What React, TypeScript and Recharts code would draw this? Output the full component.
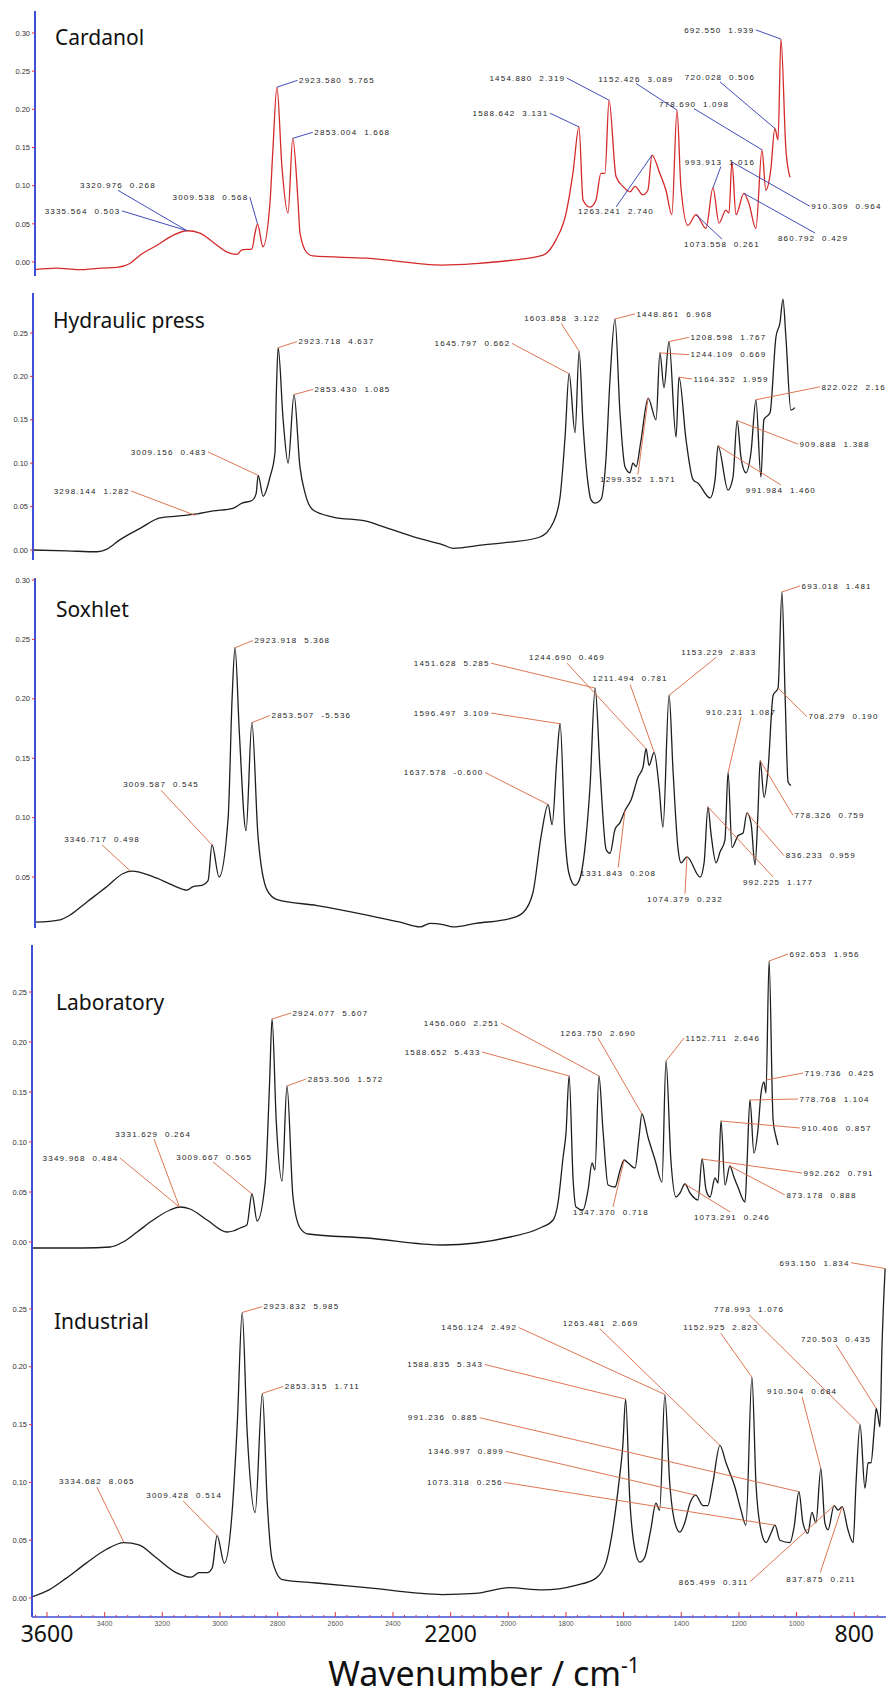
import React from 'react';
import { LineChart, Line, XAxis, YAxis, ReferenceLine, ReferenceDot } from 'recharts';

type Pt = [number, number];
type Peak = [string, 'start' | 'end' | 'middle', number, number, number, number, number, number];

// spectra: [wavenumber, absorbance]
const cardanol: Pt[] = [
  [3994, -0.010], [3900, -0.008], [3800, -0.010], [3700, -0.008], [3631, -0.007], [3574, -0.002], [3529, 0.009],
  [3454, 0.022], [3383, 0.035], [3321, 0.041], [3264, 0.038], [3206, 0.026], [3144, 0.013], [3100, 0.010],
  [3078, 0.016], [3034, 0.017], [3020, 0.038], [3009, 0.050], [2985, 0.020], [2954, 0.077], [2941, 0.147],
  [2923, 0.229], [2901, 0.125], [2874, 0.064], [2853, 0.162], [2830, 0.081], [2821, 0.038], [2790, 0.012],
  [2764, 0.008], [2525, 0.005], [2188, -0.004], [2042, -0.002], [1892, 0.002], [1745, 0.009], [1688, 0.029],
  [1643, 0.064], [1613, 0.116], [1586, 0.177], [1568, 0.081], [1537, 0.072], [1511, 0.081], [1489, 0.116],
  [1471, 0.116], [1453, 0.212], [1422, 0.112], [1391, 0.099], [1360, 0.092], [1338, 0.099], [1303, 0.088],
  [1281, 0.094], [1263, 0.140], [1228, 0.116], [1201, 0.094], [1175, 0.062], [1152, 0.199], [1135, 0.099],
  [1104, 0.048], [1068, 0.062], [1024, 0.044], [993, 0.097], [966, 0.051], [936, 0.068], [922, 0.064],
  [909, 0.131], [891, 0.062], [856, 0.090], [834, 0.077], [803, 0.044], [776, 0.147], [759, 0.094],
  [737, 0.121], [719, 0.175], [705, 0.160], [692, 0.292], [670, 0.147], [652, 0.111],
];

const hydraulic: Pt[] = [
  [4007, 0.000], [3857, -0.001], [3725, -0.002], [3681, 0.001], [3623, 0.012], [3535, 0.025], [3447, 0.037],
  [3372, 0.039], [3302, 0.041], [3214, 0.045], [3126, 0.048], [3086, 0.054], [3042, 0.057], [3024, 0.065],
  [3015, 0.086], [2993, 0.062], [2963, 0.084], [2941, 0.112], [2935, 0.180], [2927, 0.233], [2905, 0.150],
  [2883, 0.100], [2857, 0.179], [2831, 0.096], [2809, 0.066], [2773, 0.046], [2685, 0.038], [2535, 0.033],
  [2465, 0.027], [2315, 0.014], [2201, 0.006], [2157, 0.002], [2024, 0.006], [1905, 0.009], [1773, 0.015],
  [1716, 0.031], [1685, 0.061], [1663, 0.130], [1645, 0.203], [1619, 0.135], [1601, 0.229], [1584, 0.146],
  [1562, 0.077], [1549, 0.058], [1531, 0.054], [1505, 0.058], [1483, 0.104], [1465, 0.196], [1443, 0.266],
  [1421, 0.158], [1399, 0.096], [1377, 0.089], [1364, 0.100], [1350, 0.096], [1328, 0.127], [1297, 0.175],
  [1262, 0.150], [1245, 0.227], [1227, 0.187], [1205, 0.240], [1174, 0.130], [1161, 0.199], [1130, 0.127],
  [1099, 0.081], [1077, 0.077], [1024, 0.060], [1002, 0.081], [989, 0.120], [945, 0.069], [923, 0.084],
  [905, 0.149], [888, 0.107], [866, 0.089], [844, 0.112], [822, 0.173], [800, 0.084], [787, 0.150],
  [760, 0.158], [734, 0.245], [716, 0.262], [703, 0.289], [690, 0.245], [668, 0.161], [650, 0.164],
];

const soxhlet: Pt[] = [
  [3740, 0.012], [3638, 0.014], [3597, 0.018], [3528, 0.029], [3446, 0.042], [3380, 0.053], [3344, 0.055],
  [3311, 0.054], [3242, 0.049], [3176, 0.043], [3119, 0.039], [3094, 0.042], [3058, 0.043], [3033, 0.047],
  [3017, 0.077], [2988, 0.050], [2951, 0.100], [2935, 0.200], [2923, 0.243], [2905, 0.170], [2878, 0.089],
  [2854, 0.180], [2829, 0.084], [2792, 0.039], [2751, 0.031], [2588, 0.026], [2384, 0.018], [2249, 0.012],
  [2167, 0.008], [2126, 0.011], [2073, 0.010], [2032, 0.008], [1939, 0.011], [1800, 0.015], [1747, 0.020],
  [1706, 0.037], [1673, 0.084], [1644, 0.111], [1628, 0.094], [1608, 0.151], [1595, 0.179], [1575, 0.084],
  [1559, 0.053], [1534, 0.043], [1514, 0.049], [1489, 0.084], [1473, 0.126], [1452, 0.209], [1432, 0.140],
  [1407, 0.073], [1391, 0.070], [1371, 0.090], [1350, 0.096], [1330, 0.106], [1305, 0.115], [1277, 0.134],
  [1256, 0.143], [1244, 0.158], [1232, 0.144], [1211, 0.155], [1191, 0.126], [1175, 0.092], [1150, 0.203],
  [1134, 0.140], [1114, 0.075], [1101, 0.062], [1077, 0.067], [1023, 0.050], [1007, 0.062], [991, 0.109],
  [979, 0.087], [958, 0.062], [942, 0.071], [922, 0.081], [909, 0.138], [893, 0.075], [868, 0.085],
  [848, 0.087], [832, 0.104], [815, 0.095], [799, 0.060], [787, 0.104], [778, 0.148], [762, 0.117],
  [746, 0.140], [725, 0.203], [705, 0.209], [689, 0.290], [676, 0.202], [664, 0.130], [652, 0.127],
];

const laboratory: Pt[] = [
  [4002, -0.006], [3773, -0.006], [3651, -0.005], [3593, 0.000], [3530, 0.010], [3458, 0.022], [3382, 0.032],
  [3337, 0.035], [3292, 0.033], [3216, 0.022], [3126, 0.010], [3099, 0.011], [3068, 0.014], [3037, 0.017],
  [3014, 0.048], [2991, 0.021], [2955, 0.059], [2935, 0.160], [2924, 0.223], [2905, 0.120], [2879, 0.061],
  [2857, 0.156], [2830, 0.045], [2798, 0.014], [2762, 0.008], [2497, 0.004], [2156, -0.003], [2008, -0.001],
  [1855, 0.005], [1721, 0.014], [1662, 0.022], [1640, 0.039], [1617, 0.085], [1604, 0.109], [1590, 0.166],
  [1572, 0.062], [1559, 0.035], [1528, 0.032], [1505, 0.052], [1487, 0.079], [1474, 0.072], [1456, 0.166],
  [1438, 0.112], [1415, 0.057], [1384, 0.055], [1361, 0.072], [1343, 0.082], [1325, 0.079], [1294, 0.074],
  [1276, 0.105], [1263, 0.128], [1236, 0.105], [1204, 0.082], [1173, 0.060], [1155, 0.181], [1133, 0.082],
  [1110, 0.045], [1092, 0.049], [1070, 0.058], [1047, 0.049], [1011, 0.042], [993, 0.083], [975, 0.052],
  [957, 0.045], [935, 0.064], [921, 0.059], [908, 0.121], [890, 0.057], [868, 0.076], [850, 0.065],
  [832, 0.055], [800, 0.040], [791, 0.079], [778, 0.142], [760, 0.089], [742, 0.112], [728, 0.149],
  [715, 0.160], [706, 0.149], [692, 0.281], [674, 0.122], [661, 0.105], [652, 0.097],
];

const industrial: Pt[] = [
  [3652, 0.001], [3593, 0.007], [3534, 0.017], [3465, 0.030], [3395, 0.042], [3333, 0.048], [3281, 0.046],
  [3222, 0.035], [3152, 0.022], [3100, 0.018], [3072, 0.022], [3044, 0.022], [3027, 0.026], [3010, 0.054],
  [2985, 0.030], [2958, 0.074], [2940, 0.151], [2923, 0.247], [2906, 0.145], [2878, 0.074], [2853, 0.177],
  [2836, 0.082], [2819, 0.033], [2784, 0.016], [2666, 0.013], [2492, 0.009], [2228, 0.003], [2114, 0.004],
  [1996, 0.009], [1881, 0.007], [1766, 0.011], [1697, 0.017], [1662, 0.030], [1638, 0.059], [1614, 0.105],
  [1603, 0.131], [1593, 0.172], [1579, 0.087], [1561, 0.042], [1544, 0.031], [1527, 0.035], [1506, 0.059],
  [1488, 0.082], [1475, 0.076], [1457, 0.176], [1440, 0.099], [1422, 0.065], [1405, 0.057], [1388, 0.065],
  [1370, 0.082], [1350, 0.089], [1325, 0.080], [1308, 0.080], [1291, 0.099], [1266, 0.132], [1245, 0.117],
  [1214, 0.096], [1193, 0.076], [1176, 0.063], [1155, 0.191], [1141, 0.099], [1124, 0.059], [1106, 0.048],
  [1089, 0.056], [1075, 0.063], [1058, 0.050], [1023, 0.048], [1009, 0.061], [992, 0.092], [978, 0.065],
  [961, 0.056], [947, 0.074], [933, 0.065], [916, 0.112], [902, 0.065], [891, 0.059], [870, 0.080],
  [856, 0.076], [842, 0.079], [822, 0.059], [804, 0.048], [794, 0.099], [780, 0.150], [763, 0.095],
  [752, 0.117], [742, 0.117], [731, 0.145], [724, 0.164], [718, 0.158], [711, 0.148], [704, 0.217],
  [693, 0.285],
];

// peak labels: [text, anchor, label w, label a, leader start w, leader start a, peak w, peak a]
const cardanolPeaks: Peak[] = [
  ['2923.580  5.765', 'start', 2832, 0.238, 2832, 0.238, 2923, 0.229],
  ['2853.004  1.668', 'start', 2764, 0.170, 2764, 0.170, 2853, 0.162],
  ['3009.538  0.568', 'end', 3043, 0.085, 3043, 0.085, 3009, 0.050],
  ['3320.976  0.268', 'middle', 3627, 0.101, 3627, 0.094, 3321, 0.041],
  ['3335.564  0.503', 'end', 3609, 0.067, 3609, 0.067, 3321, 0.041],
  ['1588.642  3.131', 'end', 1715, 0.195, 1715, 0.195, 1586, 0.177],
  ['1454.880  2.319', 'end', 1640, 0.241, 1640, 0.241, 1453, 0.212],
  ['1152.426  3.089', 'middle', 1334, 0.240, 1334, 0.234, 1152, 0.199],
  ['692.550  1.939', 'end', 803, 0.304, 803, 0.304, 692, 0.292],
  ['720.028  0.506', 'middle', 962, 0.242, 962, 0.236, 719, 0.175],
  ['778.690  1.098', 'middle', 1077, 0.207, 1077, 0.201, 776, 0.147],
  ['993.913  1.016', 'middle', 962, 0.131, 958, 0.125, 993, 0.097],
  ['1263.241  2.740', 'middle', 1422, 0.066, 1422, 0.072, 1263, 0.140],
  ['1073.558  0.261', 'middle', 953, 0.024, 953, 0.030, 1068, 0.062],
  ['910.309  0.964', 'start', 564, 0.073, 564, 0.073, 909, 0.131],
  ['860.792  0.429', 'middle', 550, 0.031, 541, 0.038, 856, 0.090],
];

const hydraulicPeaks: Peak[] = [
  ['2923.718  4.637', 'start', 2844, 0.240, 2844, 0.240, 2927, 0.233],
  ['2853.430  1.085', 'start', 2773, 0.185, 2773, 0.185, 2857, 0.179],
  ['3009.156  0.483', 'end', 3236, 0.113, 3236, 0.113, 3015, 0.086],
  ['3298.144  1.282', 'end', 3575, 0.068, 3575, 0.068, 3293, 0.040],
  ['1645.797  0.662', 'end', 1897, 0.238, 1897, 0.238, 1645, 0.203],
  ['1603.858  3.122', 'middle', 1676, 0.267, 1680, 0.261, 1601, 0.229],
  ['1448.861  6.968', 'start', 1355, 0.272, 1355, 0.272, 1443, 0.266],
  ['1208.598  1.767', 'start', 1117, 0.245, 1117, 0.245, 1205, 0.240],
  ['1244.109  0.669', 'start', 1117, 0.225, 1117, 0.225, 1245, 0.227],
  ['1164.352  1.959', 'start', 1104, 0.197, 1104, 0.197, 1161, 0.199],
  ['822.022  2.16', 'start', 540, 0.188, 540, 0.188, 822, 0.173],
  ['909.888  1.388', 'start', 637, 0.122, 637, 0.122, 905, 0.149],
  ['991.984  1.460', 'middle', 712, 0.069, 712, 0.075, 989, 0.120],
  ['1299.352  1.571', 'middle', 1342, 0.081, 1342, 0.087, 1297, 0.175],
];

const soxhletPeaks: Peak[] = [
  ['2923.918  5.368', 'start', 2850, 0.249, 2850, 0.249, 2923, 0.243],
  ['2853.507  -5.536', 'start', 2780, 0.186, 2780, 0.186, 2854, 0.180],
  ['3009.587  0.545', 'middle', 3225, 0.128, 3225, 0.123, 3017, 0.077],
  ['3346.717  0.498', 'middle', 3466, 0.082, 3466, 0.077, 3350, 0.055],
  ['1451.628  5.285', 'end', 1877, 0.230, 1877, 0.230, 1452, 0.209],
  ['1244.690  0.469', 'middle', 1567, 0.235, 1567, 0.230, 1244, 0.158],
  ['1211.494  0.781', 'middle', 1309, 0.217, 1309, 0.212, 1211, 0.155],
  ['1153.229  2.833', 'middle', 947, 0.239, 957, 0.235, 1150, 0.203],
  ['1596.497  3.109', 'end', 1877, 0.188, 1877, 0.188, 1595, 0.179],
  ['1637.578  -0.600', 'end', 1902, 0.138, 1902, 0.138, 1644, 0.111],
  ['1331.843  0.208', 'middle', 1358, 0.053, 1358, 0.058, 1330, 0.106],
  ['1074.379  0.232', 'middle', 1085, 0.031, 1085, 0.036, 1077, 0.067],
  ['910.231  1.087', 'middle', 856, 0.189, 856, 0.185, 909, 0.138],
  ['693.018  1.481', 'start', 615, 0.295, 615, 0.295, 689, 0.290],
  ['708.279  0.190', 'start', 587, 0.185, 587, 0.185, 705, 0.209],
  ['778.326  0.759', 'start', 644, 0.102, 644, 0.102, 778, 0.148],
  ['836.233  0.959', 'start', 680, 0.068, 680, 0.068, 832, 0.104],
  ['992.225  1.177', 'middle', 705, 0.046, 725, 0.050, 991, 0.109],
];

const laboratoryPeaks: Peak[] = [
  ['2924.077  5.607', 'start', 2839, 0.229, 2839, 0.229, 2924, 0.223],
  ['2853.506  1.572', 'start', 2771, 0.163, 2771, 0.163, 2857, 0.156],
  ['3009.667  0.565', 'middle', 3184, 0.085, 3189, 0.080, 3014, 0.048],
  ['3331.629  0.264', 'middle', 3458, 0.108, 3454, 0.103, 3340, 0.035],
  ['3349.968  0.484', 'end', 3607, 0.084, 3607, 0.084, 3340, 0.035],
  ['1456.060  2.251', 'end', 1896, 0.219, 1896, 0.219, 1456, 0.166],
  ['1588.652  5.433', 'end', 1981, 0.190, 1981, 0.190, 1590, 0.166],
  ['1263.750  2.690', 'middle', 1460, 0.209, 1460, 0.204, 1263, 0.128],
  ['1152.711  2.646', 'start', 1074, 0.204, 1074, 0.204, 1155, 0.181],
  ['692.653  1.956', 'start', 607, 0.288, 607, 0.288, 692, 0.281],
  ['719.736  0.425', 'start', 540, 0.169, 540, 0.169, 706, 0.162],
  ['778.768  1.104', 'start', 562, 0.143, 562, 0.143, 778, 0.142],
  ['910.406  0.857', 'start', 553, 0.114, 553, 0.114, 908, 0.121],
  ['992.262  0.791', 'start', 544, 0.069, 544, 0.069, 993, 0.083],
  ['873.178  0.888', 'start', 621, 0.047, 621, 0.047, 868, 0.076],
  ['1073.291  0.246', 'middle', 859, 0.025, 867, 0.030, 1070, 0.058],
  ['1347.370  0.718', 'middle', 1402, 0.030, 1393, 0.035, 1343, 0.082],
];

const industrialPeaks: Peak[] = [
  ['2923.832  5.985', 'start', 2854, 0.252, 2854, 0.252, 2923, 0.247],
  ['2853.315  1.711', 'start', 2781, 0.183, 2781, 0.183, 2853, 0.177],
  ['3009.428  0.514', 'middle', 3124, 0.089, 3128, 0.084, 3010, 0.054],
  ['3334.682  8.065', 'middle', 3427, 0.101, 3427, 0.096, 3333, 0.048],
  ['693.150  1.834', 'end', 811, 0.290, 811, 0.290, 693, 0.285],
  ['778.993  1.076', 'middle', 1165, 0.250, 1165, 0.245, 780, 0.150],
  ['1152.925  2.823', 'middle', 1263, 0.234, 1263, 0.229, 1155, 0.191],
  ['720.503  0.435', 'middle', 863, 0.224, 863, 0.219, 724, 0.164],
  ['910.504  0.684', 'middle', 981, 0.179, 981, 0.174, 916, 0.112],
  ['1263.481  2.669', 'middle', 1680, 0.238, 1683, 0.233, 1266, 0.132],
  ['1456.124  2.492', 'end', 1964, 0.234, 1964, 0.234, 1457, 0.176],
  ['1588.835  5.343', 'end', 2082, 0.202, 2082, 0.202, 1593, 0.172],
  ['991.236  0.885', 'end', 2100, 0.156, 2100, 0.156, 992, 0.092],
  ['1346.997  0.899', 'end', 2010, 0.127, 2010, 0.127, 1350, 0.089],
  ['1073.318  0.256', 'end', 2014, 0.100, 2014, 0.100, 1075, 0.063],
  ['865.499  0.311', 'end', 1162, 0.014, 1162, 0.014, 870, 0.080],
  ['837.875  0.211', 'middle', 915, 0.016, 918, 0.022, 842, 0.079],
];

const yTicks30 = [0, 0.05, 0.1, 0.15, 0.2, 0.25, 0.3];
const yTicks25 = [0, 0.05, 0.1, 0.15, 0.2, 0.25];
const yTicksSox = [0.05, 0.1, 0.15, 0.2, 0.25, 0.3];
const smallAxisLabels = [3400, 3200, 3000, 2800, 2600, 2400, 2000, 1800, 1600, 1400, 1200, 1000];
const bigAxisLabels = [3600, 2200, 800];
const axisTicks = Array.from({ length: 87 }, (_, i) => 3720 - 40 * i);

const BLUE = '#3d4fd6';
const FRAME_BOTTOM = '#4a78b8';
const TICK_RED = '#e0353d';
const LABEL_FONT = '"Liberation Sans", Arial, sans-serif';

type Mode = 'frame' | 'hidden' | 'ticks' | 'labels';

const panels = [
  { title: 'Cardanol', data: cardanol, peaks: cardanolPeaks, top: 11, bottom: 276, left: 35, y: [-0.0183, 0.3288], x: [227, 3994], yTicks: yTicks30, stroke: '#d42a2a', leader: '#2c39b0', frameTop: true, mode: 'frame' as Mode, tx: 55, ty: 45 },
  { title: 'Hydraulic press', data: hydraulic, peaks: hydraulicPeaks, top: 293, bottom: 560, left: 33, y: [-0.0115, 0.296], x: [249, 4007], yTicks: yTicks25, stroke: '#1e1e1e', leader: '#d9673f', frameTop: true, mode: 'frame' as Mode, tx: 53, ty: 328 },
  { title: 'Soxhlet', data: soxhlet, peaks: soxhletPeaks, top: 578, bottom: 928, left: 35, y: [0.0071, 0.3017], x: [264, 3740], yTicks: yTicksSox, stroke: '#1e1e1e', leader: '#d9673f', frameTop: true, mode: 'ticks' as Mode, tx: 56, ty: 617 },
  { title: 'Laboratory', data: laboratory, peaks: laboratoryPeaks, top: 945, bottom: 1250, left: 32, y: [-0.008, 0.297], x: [167, 4002], yTicks: yTicks25, stroke: '#1e1e1e', leader: '#d9673f', frameTop: true, mode: 'hidden' as Mode, tx: 56, ty: 1010 },
  { title: 'Industrial', data: industrial, peaks: industrialPeaks, top: 1250, bottom: 1617, left: 32, y: [-0.0164, 0.301], x: [690, 3652], yTicks: yTicks25, stroke: '#1e1e1e', leader: '#d9673f', frameTop: false, mode: 'labels' as Mode, tx: 54, ty: 1329 },
];

function PeakText({ cx, cy, text, anchor }: any) {
  const dx = anchor === 'start' ? 1.5 : anchor === 'end' ? -1.5 : 0;
  return (
    <text x={cx + dx} y={cy} dy="0.35em" textAnchor={anchor} fontSize={8} letterSpacing={1.2}
      fill="#1c1c1c" fontFamily={LABEL_FONT} style={{ whiteSpace: 'pre' }}>
      {text}
    </text>
  );
}

function InnerTick({ x, y, payload, labels }: any) {
  const v = payload.value;
  const major = v % 200 === 0;
  return (
    <g>
      <line x1={x} x2={x} y1={y} y2={y - (major ? 5 : 2)} stroke={TICK_RED} strokeWidth={1} />
      {labels && smallAxisLabels.includes(v) && (
        <text x={x} y={y + 9} textAnchor="middle" fontSize={7} fill="#555" fontFamily={LABEL_FONT}>{v}</text>
      )}
      {labels && bigAxisLabels.includes(v) && (
        <text x={x} y={y + 25} textAnchor="middle" fontSize={23} fill="#111" fontFamily='"Noto Sans", sans-serif'>{v}</text>
      )}
    </g>
  );
}

function Panel({ p }: { p: (typeof panels)[number] }) {
  const mt = 10;
  const mb = 4;
  const axisH = p.mode === 'labels' ? 32 : 0;
  const h = mt + (p.bottom - p.top) + axisH + mb;
  const rows = p.data.map(([w, a]) => ({ w, a }));
  const ticks = axisTicks.filter((t) => t >= p.x[0] && t <= p.x[1]);
  const withTicks = p.mode === 'ticks' || p.mode === 'labels';

  return (
    <div style={{ position: 'absolute', left: 0, top: p.top - mt }}>
      <LineChart width={886} height={h} data={rows} margin={{ top: mt, right: 0, bottom: mb, left: 0 }}>
        <XAxis
          dataKey="w"
          type="number"
          domain={p.x}
          reversed
          allowDataOverflow
          hide={p.mode === 'hidden'}
          height={axisH}
          ticks={withTicks ? ticks : undefined}
          interval={0}
          tick={withTicks ? (t: any) => <InnerTick {...t} labels={p.mode === 'labels'} /> : false}
          tickLine={false}
          tickSize={0}
          tickMargin={0}
          axisLine={{ stroke: p.mode === 'frame' ? FRAME_BOTTOM : BLUE, strokeWidth: 1.5 }}
        />
        {p.frameTop && (
          <XAxis xAxisId="top" orientation="top" type="number" domain={p.x} reversed allowDataOverflow
            height={0} tick={false} tickLine={false} axisLine={{ stroke: BLUE, strokeWidth: 1.5 }} />
        )}
        <YAxis
          type="number"
          domain={p.y}
          allowDataOverflow
          ticks={p.yTicks}
          interval={0}
          width={p.left}
          tickSize={3}
          tickMargin={2}
          tick={{ fontSize: 7.5, fill: '#333', fontFamily: LABEL_FONT }}
          tickFormatter={(v: number) => v.toFixed(2)}
          tickLine={{ stroke: TICK_RED }}
          axisLine={{ stroke: BLUE, strokeWidth: 2 }}
        />
        <Line type="monotoneX" dataKey="a" stroke={p.stroke} strokeWidth={1.3} dot={false} isAnimationActive={false} />
        {p.peaks.map(([text, , , , lx, ly, px, py], i) => (
          <ReferenceLine key={'l' + i} segment={[{ x: lx, y: ly }, { x: px, y: py }]}
            stroke={p.leader} strokeWidth={0.9} ifOverflow="visible" />
        ))}
        {p.peaks.map(([text, anchor, tx, ty], i) => (
          <ReferenceDot key={'t' + i} x={tx} y={ty} r={0} ifOverflow="visible"
            shape={(d: any) => <PeakText cx={d.cx} cy={d.cy} text={text} anchor={anchor} />} />
        ))}
      </LineChart>
    </div>
  );
}

export default function App() {
  return (
    <div style={{ position: 'absolute', left: 0, top: 0, width: 886, height: 1702, background: '#fff', overflow: 'hidden' }}>
      {panels.map((p) => (
        <Panel key={p.title} p={p} />
      ))}
      <svg width={886} height={1702} style={{ position: 'absolute', left: 0, top: 0, pointerEvents: 'none' }}>
        {panels.map((p) => (
          <text key={p.title} x={p.tx} y={p.ty} fontSize={21} fill="#111" fontFamily='"Noto Sans", sans-serif'>
            {p.title}
          </text>
        ))}
        <text x={484} y={1686} textAnchor="middle" fontSize={34} fill="#111" fontFamily='"Noto Sans", sans-serif'>
          Wavenumber / cm
          <tspan dy={-13} fontSize={21}>-1</tspan>
        </text>
      </svg>
    </div>
  );
}
